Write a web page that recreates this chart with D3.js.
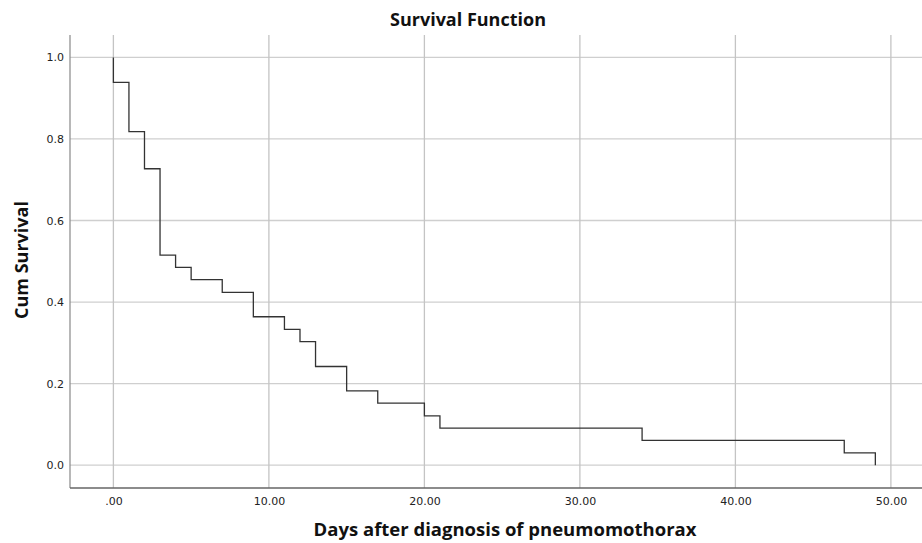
<!DOCTYPE html>
<html><head><meta charset="utf-8">
<script src="https://cdn.jsdelivr.net/npm/d3@7"></script>
<style>html,body{margin:0;padding:0;background:#fff;}</style>
</head><body>
<svg id="chart" width="922" height="543"></svg>
<script>
const times    = [0, 0, 1, 2, 3, 4, 5, 7, 9, 11, 12, 13, 15, 17, 20, 21, 34, 47, 49];
const survival = [1.0, 0.939, 0.818, 0.727, 0.515, 0.485, 0.455, 0.424, 0.364, 0.333, 0.303, 0.242, 0.182, 0.152, 0.121, 0.091, 0.061, 0.030, 0.0];
const xTicks = [0, 10, 20, 30, 40, 50];
const yTicks = [0.0, 0.2, 0.4, 0.6, 0.8, 1.0];
const titleText = "Survival Function";
const xLabel = "Days after diagnosis of pneumomothorax";
const yLabel = "Cum Survival";

(function () {
const svg = d3.select("#chart");
const mLeft = 70, mRight = 922, mTop = 35, mBottom = 488;
const x = d3.scaleLinear().domain([-2.79, 52.0]).range([mLeft, mRight]);
const y = d3.scaleLinear().domain([-0.056, 1.055]).range([mBottom, mTop]);

// grid
svg.append("g").selectAll("line").data(yTicks).join("line")
  .attr("x1", mLeft).attr("x2", mRight)
  .attr("y1", d => y(d)).attr("y2", d => y(d))
  .attr("stroke", "#cfcfcf").attr("stroke-width", 1.3);
svg.append("g").selectAll("line").data(xTicks).join("line")
  .attr("y1", mTop).attr("y2", mBottom)
  .attr("x1", d => x(d)).attr("x2", d => x(d))
  .attr("stroke", "#c4c4c4").attr("stroke-width", 1.3);

// axes
const xAxis = d3.axisBottom(x).tickValues(xTicks).tickSize(0).tickPadding(9)
  .tickFormat(d => d === 0 ? ".00" : d3.format(".2f")(d));
const gx = svg.append("g").attr("transform", `translate(0,${mBottom})`).call(xAxis);
gx.select(".domain").remove();
gx.selectAll("text").attr("font-family", "DejaVu Sans, sans-serif").attr("font-size", 11).attr("fill", "#222");

const yAxis = d3.axisLeft(y).tickValues(yTicks).tickSize(0).tickPadding(6).tickFormat(d3.format(".1f"));
const gy = svg.append("g").attr("transform", `translate(${mLeft},0)`).call(yAxis);
gy.select(".domain").remove();
gy.selectAll("text").attr("font-family", "DejaVu Sans, sans-serif").attr("font-size", 11).attr("fill", "#222");

svg.append("line").attr("x1", mLeft).attr("x2", mLeft).attr("y1", mTop).attr("y2", mBottom)
  .attr("stroke", "#888").attr("stroke-width", 1.2);
svg.append("line").attr("x1", mLeft).attr("x2", mRight).attr("y1", mBottom).attr("y2", mBottom)
  .attr("stroke", "#666").attr("stroke-width", 1.4);

// step curve
const data = times.map((t, i) => [t, survival[i]]);
const line = d3.line().x(d => x(d[0])).y(d => y(d[1])).curve(d3.curveStepAfter);
svg.append("path").datum(data).attr("d", line)
  .attr("fill", "none").attr("stroke", "#333").attr("stroke-width", 1.3);

// labels
svg.append("text").attr("x", 468).attr("y", 26).attr("text-anchor", "middle")
  .attr("font-family", "Open Sans, sans-serif").attr("font-weight", "bold").attr("font-size", 18)
  .attr("fill", "#111").text(titleText);
svg.append("text").attr("x", 505).attr("y", 536).attr("text-anchor", "middle")
  .attr("font-family", "Open Sans, sans-serif").attr("font-weight", "bold").attr("font-size", 18.5)
  .attr("fill", "#111").text(xLabel);
svg.append("text").attr("transform", "translate(28,260) rotate(-90)").attr("text-anchor", "middle")
  .attr("font-family", "Open Sans, sans-serif").attr("font-weight", "bold").attr("font-size", 18)
  .attr("fill", "#111").text(yLabel);
})();
</script>
</body></html>
